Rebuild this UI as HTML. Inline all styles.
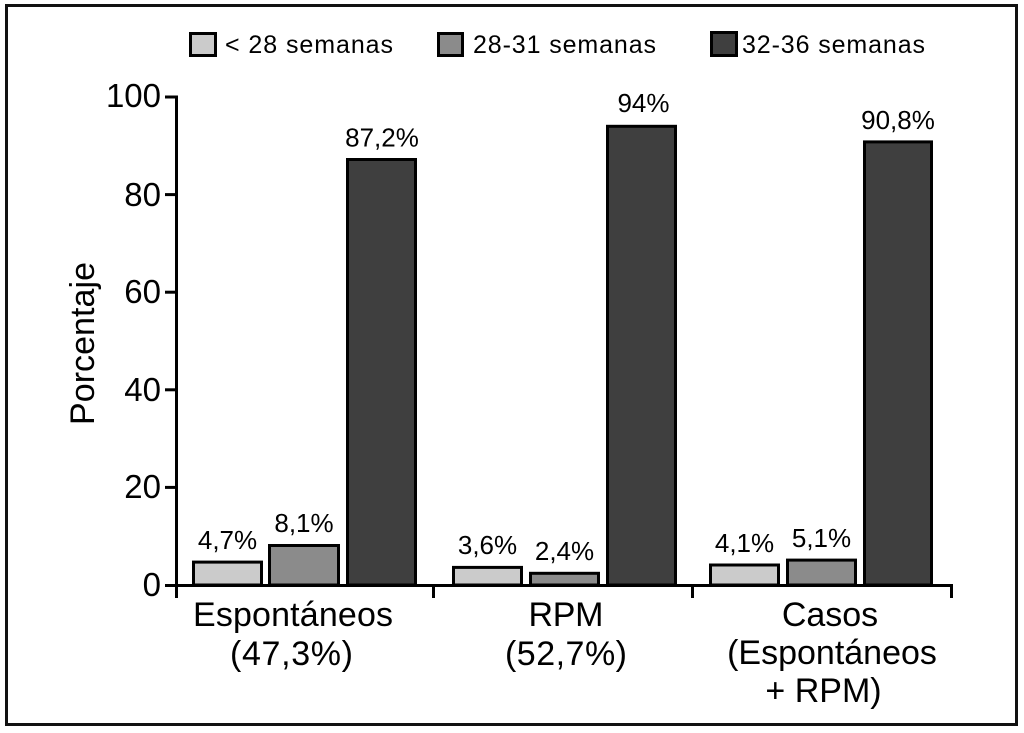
<!DOCTYPE html>
<html><head><meta charset="utf-8"><style>
html,body{margin:0;padding:0;background:#fff;}
svg{display:block;}
text{font-family:"Liberation Sans",Arial,sans-serif;fill:#000;}
</style></head><body>
<svg width="1024" height="733" viewBox="0 0 1024 733" xmlns="http://www.w3.org/2000/svg">
<rect x="0" y="0" width="1024" height="733" fill="#fff"/>
<rect x="6.5" y="5.5" width="1010" height="719" fill="none" stroke="#111" stroke-width="3"/>

<!-- legend -->
<rect x="190.5" y="33.5" width="25" height="22" fill="#cbcbcb" stroke="#000" stroke-width="3"/>
<text x="225" y="53" font-size="25" textLength="168">&lt; 28 semanas</text>
<rect x="438.5" y="33.5" width="24" height="22" fill="#8b8b8b" stroke="#000" stroke-width="3"/>
<text x="473" y="53" font-size="25" textLength="183">28-31 semanas</text>
<rect x="711.5" y="32.5" width="25" height="23" fill="#3f3f3f" stroke="#000" stroke-width="3"/>
<text x="742" y="53" font-size="25" textLength="183">32-36 semanas</text>

<!-- bars group 1 -->
<rect x="193.5" y="562.1" width="68" height="22.9" fill="#cbcbcb" stroke="#000" stroke-width="3"/>
<rect x="269.5" y="545.5" width="69" height="39.5" fill="#8b8b8b" stroke="#000" stroke-width="3"/>
<rect x="347.5" y="159.5" width="68" height="425.5" fill="#3f3f3f" stroke="#000" stroke-width="3"/>
<!-- group 2 -->
<rect x="453.5" y="567.4" width="68" height="17.6" fill="#cbcbcb" stroke="#000" stroke-width="3"/>
<rect x="530.5" y="573.3" width="68" height="11.7" fill="#8b8b8b" stroke="#000" stroke-width="3"/>
<rect x="607.5" y="126.3" width="68" height="458.7" fill="#3f3f3f" stroke="#000" stroke-width="3"/>
<!-- group 3 -->
<rect x="710.5" y="565" width="68" height="20" fill="#cbcbcb" stroke="#000" stroke-width="3"/>
<rect x="787.5" y="560.1" width="68" height="24.9" fill="#8b8b8b" stroke="#000" stroke-width="3"/>
<rect x="864.5" y="141.9" width="67" height="443.1" fill="#3f3f3f" stroke="#000" stroke-width="3"/>

<!-- value labels -->
<g font-size="26" text-anchor="middle">
<text x="227.5" y="549">4,7%</text>
<text x="304" y="532">8,1%</text>
<text x="382" y="146.5">87,2%</text>
<text x="487.5" y="554">3,6%</text>
<text x="564.5" y="560">2,4%</text>
<text x="643.5" y="112">94%</text>
<text x="744.5" y="552">4,1%</text>
<text x="821.5" y="547">5,1%</text>
<text x="898" y="129">90,8%</text>
</g>

<!-- axes -->
<line x1="176.5" y1="95.5" x2="176.5" y2="598" stroke="#000" stroke-width="3"/>
<line x1="175" y1="585.5" x2="953" y2="585.5" stroke="#000" stroke-width="3"/>
<g stroke="#000" stroke-width="3">
<line x1="165" y1="97" x2="177" y2="97"/>
<line x1="165" y1="194.6" x2="177" y2="194.6"/>
<line x1="165" y1="292.2" x2="177" y2="292.2"/>
<line x1="165" y1="389.8" x2="177" y2="389.8"/>
<line x1="165" y1="487.4" x2="177" y2="487.4"/>
<line x1="165" y1="585.5" x2="177" y2="585.5"/>
<line x1="433.5" y1="584" x2="433.5" y2="598"/>
<line x1="692.5" y1="584" x2="692.5" y2="598"/>
<line x1="951.5" y1="584" x2="951.5" y2="598"/>
</g>

<!-- y tick labels -->
<g font-size="33" text-anchor="end">
<text x="161" y="107">100</text>
<text x="161" y="206">80</text>
<text x="161" y="303">60</text>
<text x="161" y="401">40</text>
<text x="161" y="498">20</text>
<text x="161" y="596">0</text>
</g>

<!-- y axis title -->
<text transform="translate(94,343.5) rotate(-90)" font-size="34" text-anchor="middle" textLength="163">Porcentaje</text>

<!-- category labels -->
<g font-size="34" text-anchor="middle">
<text x="293" y="626" textLength="200">Espontáneos</text>
<text x="291.5" y="665" textLength="123">(47,3%)</text>
<text x="566" y="626" textLength="75">RPM</text>
<text x="566" y="665" textLength="122">(52,7%)</text>
<text x="830" y="626">Casos</text>
<text x="832" y="664">(Espontáneos</text>
<text x="823.5" y="702">+ RPM)</text>
</g>
</svg>
</body></html>
